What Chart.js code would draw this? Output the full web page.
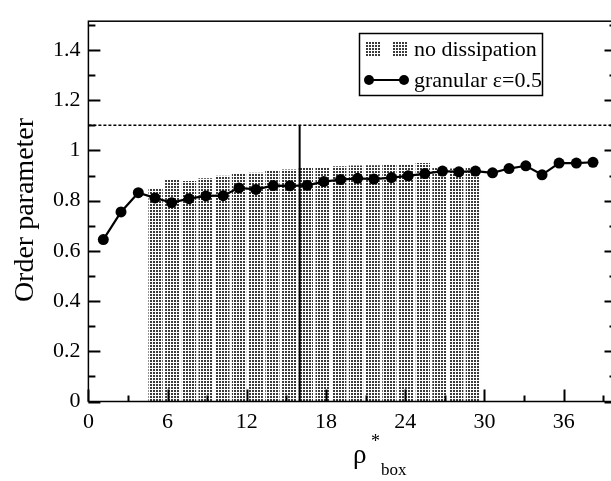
<!DOCTYPE html>
<html>
<head>
<meta charset="utf-8">
<script src="https://cdn.jsdelivr.net/npm/chart.js@4.4.0/dist/chart.umd.min.js"></script>
<style>
  html, body { margin: 0; padding: 0; background: #fff; overflow: hidden; }
  canvas { display: block; }
</style>
</head>
<body>
<canvas id="orderChart" width="622" height="481"></canvas>
<script>
// tick values (labels shown on the major ones)
const xTicksMajor = [0, 6, 12, 18, 24, 30, 36];
const xTicksMinor = [3, 9, 15, 21, 27, 33, 39];
const yTicksMajor = [0, 0.2, 0.4, 0.6, 0.8, 1, 1.2, 1.4];
const yTicksMinor = [0.1, 0.3, 0.5, 0.7, 0.9, 1.1, 1.3, 1.5];

// granular eps=0.5 (points + line)
const granularX = [1.13, 2.47, 3.78, 5.04, 6.31, 7.62, 8.90, 10.21, 11.40, 12.69, 14.00, 15.26, 16.57, 17.83, 19.10,
    20.39, 21.62, 22.96, 24.22, 25.48, 26.82, 28.06, 29.32, 30.61, 31.86, 33.13, 34.36, 35.65, 36.96, 38.22];
const granularY = [0.645, 0.755, 0.832, 0.811, 0.792, 0.808, 0.819, 0.820, 0.851, 0.845, 0.860, 0.859, 0.861, 0.876, 0.884,
    0.889, 0.886, 0.892, 0.899, 0.908, 0.918, 0.915, 0.918, 0.911, 0.928, 0.939, 0.903, 0.950, 0.950, 0.953];

// no dissipation (stippled bars)
const noDissX = [5.09, 6.35, 7.62, 8.88, 10.15, 11.41, 12.68, 13.94, 15.21, 16.47, 17.74, 19.00, 20.27, 21.53, 22.80,
    24.06, 25.33, 26.59, 27.86, 29.12];
const noDissY = [0.850, 0.885, 0.878, 0.889, 0.899, 0.907, 0.911, 0.920, 0.924, 0.931, 0.933, 0.937, 0.940, 0.941, 0.946,
    0.946, 0.950, 0.931, 0.928, 0.931];

// reference lines
const refLevelX = [0, 40];
const refLevelY = [1.1, 1.1];
const markerX = [16, 16];
const markerY = [0, 1.1];

const FONT = "'Liberation Serif', 'DejaVu Serif', serif";

function makeStipple() {
    const c = document.createElement('canvas');
    c.width = 3;
    c.height = 3;
    const g = c.getContext('2d');
    g.fillStyle = '#fff';
    g.fillRect(0, 0, 3, 3);
    g.fillStyle = '#3a3a3a';
    g.fillRect(0, 0, 2, 2);
    return g.createPattern(c, 'repeat');
}
const stipple = makeStipple();

const toXY = (xs, ys) => xs.map((x, i) => ({ x: x, y: ys[i] }));

// frame, inward ticks, axis title and legend
const decorations = {
    id: 'decorations',
    afterDraw(chart) {
        const ctx = chart.ctx;
        const area = chart.chartArea;
        const xs = chart.scales.x;
        const ys = chart.scales.y;
        ctx.save();
        ctx.strokeStyle = '#000';
        ctx.lineWidth = 1.5;
        ctx.strokeRect(area.left, area.top, area.right - area.left, area.bottom - area.top);

        ctx.beginPath();
        yTicksMajor.concat(yTicksMinor).forEach(v => {
            const len = yTicksMajor.includes(v) ? 12 : 7;
            const py = Math.round(ys.getPixelForValue(v)) + 0.5;
            ctx.moveTo(area.left, py); ctx.lineTo(area.left + len, py);
            ctx.moveTo(area.right, py); ctx.lineTo(area.right - len, py);
        });
        xTicksMajor.concat(xTicksMinor).forEach(v => {
            const len = xTicksMajor.includes(v) ? 12 : 6;
            const px = Math.round(xs.getPixelForValue(v)) + 0.5;
            ctx.moveTo(px, area.bottom); ctx.lineTo(px, area.bottom - len);
        });
        ctx.lineWidth = 2;
        ctx.stroke();

        // y title
        ctx.fillStyle = '#000';
        ctx.font = '28px ' + FONT;
        ctx.textAlign = 'center';
        ctx.textBaseline = 'alphabetic';
        ctx.save();
        ctx.translate(33, 210);
        ctx.rotate(-Math.PI / 2);
        ctx.fillText('Order parameter', 0, 0);
        ctx.restore();

        // x title: rho*_box
        ctx.textAlign = 'left';
        ctx.font = '27px ' + FONT;
        ctx.fillText('ρ', 353, 463);
        ctx.font = '18px ' + FONT;
        ctx.fillText('*', 371, 447);
        ctx.font = '17px ' + FONT;
        ctx.fillText('box', 381, 475);

        // legend
        ctx.lineWidth = 1.5;
        ctx.strokeRect(359.5, 33.5, 183, 62);
        ctx.fillStyle = stipple;
        ctx.fillRect(366, 41, 14, 16);
        ctx.fillRect(393, 41, 14, 16);
        ctx.strokeStyle = '#000';
        ctx.lineWidth = 2;
        ctx.beginPath();
        ctx.moveTo(369, 80); ctx.lineTo(404, 80);
        ctx.stroke();
        ctx.fillStyle = '#000';
        [369, 404].forEach(cx => {
            ctx.beginPath();
            ctx.arc(cx, 80, 5, 0, Math.PI * 2);
            ctx.fill();
        });
        ctx.font = '22px ' + FONT;
        ctx.textBaseline = 'alphabetic';
        ctx.fillText('no dissipation', 414, 56);
        ctx.fillText('granular ε=0.5', 414, 87);
        ctx.restore();
    }
};

function initChart() {
    const ctx = document.getElementById('orderChart').getContext('2d');
    const config = {
        type: 'line',
        data: {
            datasets: [
                {
                    label: 'granular ε=0.5',
                    data: toXY(granularX, granularY),
                    borderColor: '#000',
                    backgroundColor: '#000',
                    borderWidth: 2.2,
                    pointRadius: 5.5,
                    pointBorderWidth: 0,
                    order: 0
                },
                {
                    label: 'ref',
                    data: toXY(refLevelX, refLevelY),
                    borderColor: '#000',
                    borderWidth: 1.5,
                    borderDash: [3, 2],
                    pointRadius: 0,
                    order: 1
                },
                {
                    label: 'marker',
                    data: toXY(markerX, markerY),
                    borderColor: '#000',
                    borderWidth: 2,
                    pointRadius: 0,
                    order: 2
                },
                {
                    type: 'bar',
                    label: 'no dissipation',
                    data: toXY(noDissX, noDissY),
                    backgroundColor: stipple,
                    borderWidth: 0,
                    barPercentage: 0.86,
                    categoryPercentage: 1,
                    order: 3
                }
            ]
        },
        options: {
            responsive: false,
            animation: false,
            layout: { padding: { top: 8, right: 5, left: 0, bottom: 0 } },
            plugins: {
                legend: { display: false },
                tooltip: { enabled: false }
            },
            scales: {
                x: {
                    type: 'linear',
                    min: 0,
                    max: 40,
                    offset: false,
                    grid: { display: false, drawTicks: false, offset: false },
                    border: { display: false },
                    afterBuildTicks: (scale) => { scale.ticks = xTicksMajor.map(v => ({ value: v })); },
                    afterFit: (scale) => { scale.height = 79.5; },
                    ticks: {
                        autoSkip: false,
                        maxRotation: 0,
                        padding: 8,
                        color: '#000',
                        font: { family: FONT, size: 22 },
                        callback: (v) => String(v)
                    }
                },
                y: {
                    min: 0,
                    max: 1.515,
                    grid: { display: false, drawTicks: false },
                    border: { display: false },
                    afterBuildTicks: (scale) => { scale.ticks = yTicksMajor.map(v => ({ value: v })); },
                    afterFit: (scale) => { scale.width = 88.4; },
                    ticks: {
                        autoSkip: false,
                        padding: 8,
                        color: '#000',
                        font: { family: FONT, size: 22 },
                        callback: (v) => String(Number(v.toFixed(1)))
                    }
                }
            }
        },
        plugins: [decorations]
    };
    new Chart(ctx, config);
}

document.addEventListener('DOMContentLoaded', initChart);
</script>
</body>
</html>
